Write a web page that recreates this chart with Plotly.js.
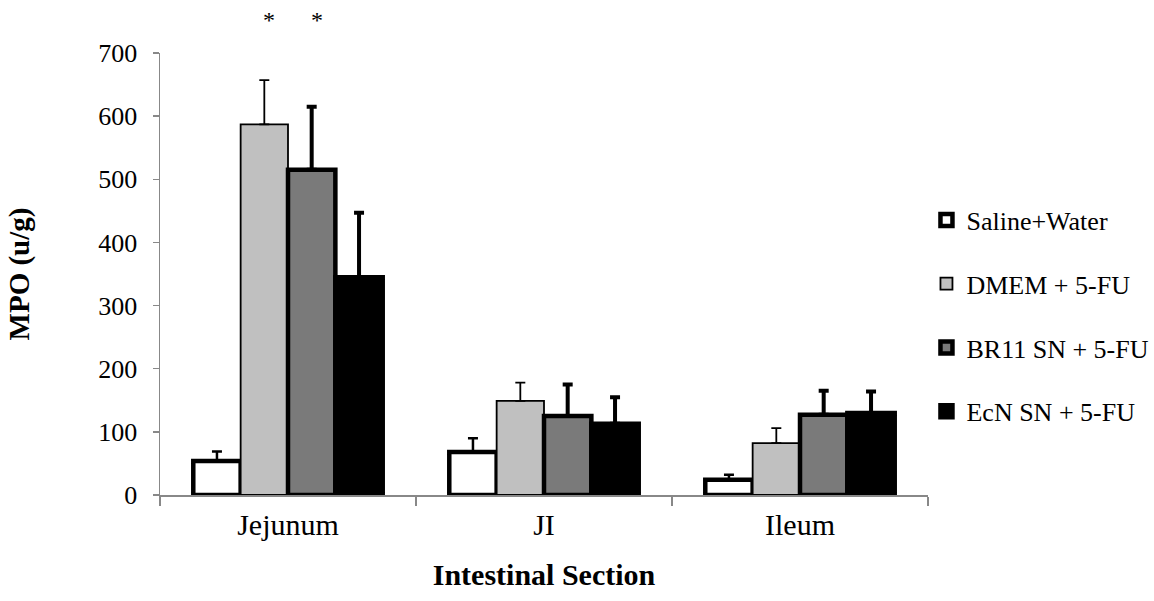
<!DOCTYPE html>
<html>
<head>
<meta charset="utf-8">
<script src="https://cdn.plot.ly/plotly-3.0.1.min.js"></script>
<style>
  html, body { margin: 0; padding: 0; background: #fff; }
  #chart { width: 1154px; height: 601px; }
</style>
</head>
<body>
<div id="chart"></div>
<script>
// MPO activity per intestinal section, mean with upward error (SEM)
const sections = ['Jejunum', 'JI', 'Ileum'];

const salineWater = [54, 68, 24];
const salineWaterErr = [15, 22, 8];

const dmemFU = [587, 149, 82];
const dmemFUErr = [70, 29, 24];

const br11FU = [515, 125, 127];
const br11FUErr = [100, 50, 38];

const ecnFU = [345, 113, 130];
const ecnFUErr = [102, 42, 34];

const seriesNames = ['Saline+Water', 'DMEM + 5-FU', 'BR11 SN + 5-FU', 'EcN SN + 5-FU'];
const yTicks = [0, 100, 200, 300, 400, 500, 600, 700];

const serif = '"Liberation Serif", "Times New Roman", serif';

function barTrace(name, y, err, fill, lineW, errW, capW, group) {
  return {
    type: 'bar',
    name: name,
    x: sections,
    y: y,
    legendgroup: group,
    marker: { color: fill, line: { color: '#000', width: lineW } },
    error_y: {
      type: 'data', array: err, symmetric: false, arrayminus: err.map(() => 0),
      visible: true, color: '#000', thickness: errW, width: capW
    },
    hoverinfo: 'x+y+name'
  };
}

const traces = [
  barTrace(seriesNames[0], salineWater, salineWaterErr, '#ffffff', 4.5, 2.5, 5, 'g1'),
  barTrace(seriesNames[1], dmemFU, dmemFUErr, '#c0c0c0', 1.8, 1.8, 5, 'g2'),
  barTrace(seriesNames[2], br11FU, br11FUErr, '#7a7a7a', 4.5, 4, 5, 'g3'),
  barTrace(seriesNames[3], ecnFU, ecnFUErr, '#000000', 4.5, 4, 5, 'g4')
];

// significance markers above the DMEM and BR11 bars of the first section
const stars = [
  { x: sections[0], xshift: -19 },
  { x: sections[0], xshift: 29 }
].map(s => ({
  xref: 'x', yref: 'paper', x: s.x, xshift: s.xshift, y: 1.108,
  text: '*', showarrow: false,
  font: { family: serif, size: 24, color: '#000' }
}));

const layout = {
  width: 1154,
  height: 601,
  paper_bgcolor: '#fff',
  plot_bgcolor: '#fff',
  margin: { l: 160, r: 226, t: 53, b: 106, autoexpand: false },
  barmode: 'group',
  bargap: 0.26,
  bargroupgap: 0,
  font: { family: serif, color: '#000' },
  xaxis: {
    type: 'category',
    showline: true, linecolor: '#888', linewidth: 1.5,
    ticks: 'outside', tickson: 'boundaries', ticklen: 9, tickcolor: '#888', tickwidth: 1.5,
    tickfont: { family: serif, size: 30, color: '#000' },
    ticklabelstandoff: 2,
    showgrid: false, zeroline: false,
    automargin: false,
    title: { text: '<b>Intestinal Section</b>', font: { family: serif, size: 30, color: '#000' }, standoff: 24 }
  },
  yaxis: {
    range: [0, 700],
    tickvals: yTicks,
    ticktext: yTicks.map(String),
    showline: true, linecolor: '#888', linewidth: 1.5,
    ticks: 'outside', ticklen: 6, tickcolor: '#888', tickwidth: 1.5,
    tickfont: { family: serif, size: 26, color: '#000' },
    ticklabelstandoff: 10,
    showgrid: false, zeroline: false,
    automargin: false,
    title: { text: '<b>MPO (u/g)</b>', font: { family: serif, size: 29, color: '#000' }, standoff: 60 }
  },
  legend: {
    x: 0.998, xanchor: 'left',
    y: 0.405, yanchor: 'middle',
    traceorder: 'grouped',
    tracegroupgap: 27,
    itemwidth: 30,
    font: { family: serif, size: 26, color: '#000' },
    bgcolor: 'rgba(0,0,0,0)'
  },
  annotations: stars,
  showlegend: true
};

Plotly.newPlot('chart', traces, layout, { displayModeBar: false, staticPlot: true });
</script>
</body>
</html>
